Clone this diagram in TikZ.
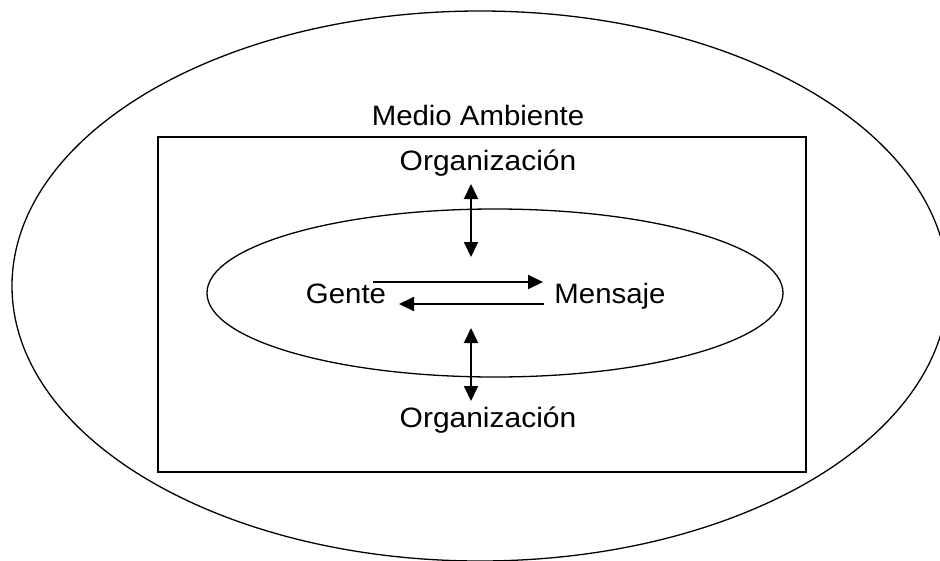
\documentclass[tikz,border=0pt]{standalone}
\usepackage{fontspec}
\setmainfont{Liberation Sans}
\usetikzlibrary{arrows.meta}
\begin{document}
\begin{tikzpicture}[x=1pt,y=-1pt,
  lbl/.style={anchor=base,inner sep=0pt,font=\fontsize{28}{32}\selectfont},
  shapeline/.style={draw=black,line width=1.3pt},
  conn/.style={line width=2pt,-{Triangle[length=15pt,width=14pt]}},
  dconn/.style={line width=2pt,{Triangle[length=15pt,width=14pt]}-{Triangle[length=15pt,width=14pt]}}]
\useasboundingbox (0,0) rectangle (940,560);
% outer ellipse
\draw[shapeline] (480,286) ellipse [x radius=468, y radius=275];
% rectangle
\draw[shapeline] (158,137) rectangle (806,472);
% inner ellipse
\draw[shapeline] (495,293) ellipse [x radius=288, y radius=84];
% labels
\node[lbl] (medio) at (478,125) {\scalebox{1.05}[1]{Medio Ambiente}};
\node[lbl] (orgtop) at (488,170) {\scalebox{1.07}[1]{Organización}};
\node[lbl] (orgbot) at (488,427) {\scalebox{1.07}[1]{Organización}};
\node[lbl] (gente) at (346,303) {\scalebox{1.05}[1]{Gente}};
\node[lbl] (mensaje) at (610,303) {\scalebox{1.05}[1]{Mensaje}};
% connector ends
\coordinate (h1s) at (373,282);
\coordinate (h1e) at (543,282);
\coordinate (h2s) at (544,304);
\coordinate (h2e) at (399,304);
\coordinate (v1s) at (471,184);
\coordinate (v1e) at (471,257);
\coordinate (v2s) at (471,328);
\coordinate (v2e) at (471,401);
\draw[conn] (h1s) -- (h1e);
\draw[conn] (h2s) -- (h2e);
\draw[dconn] (v1s) -- (v1e);
\draw[dconn] (v2s) -- (v2e);
\end{tikzpicture}
\end{document}
